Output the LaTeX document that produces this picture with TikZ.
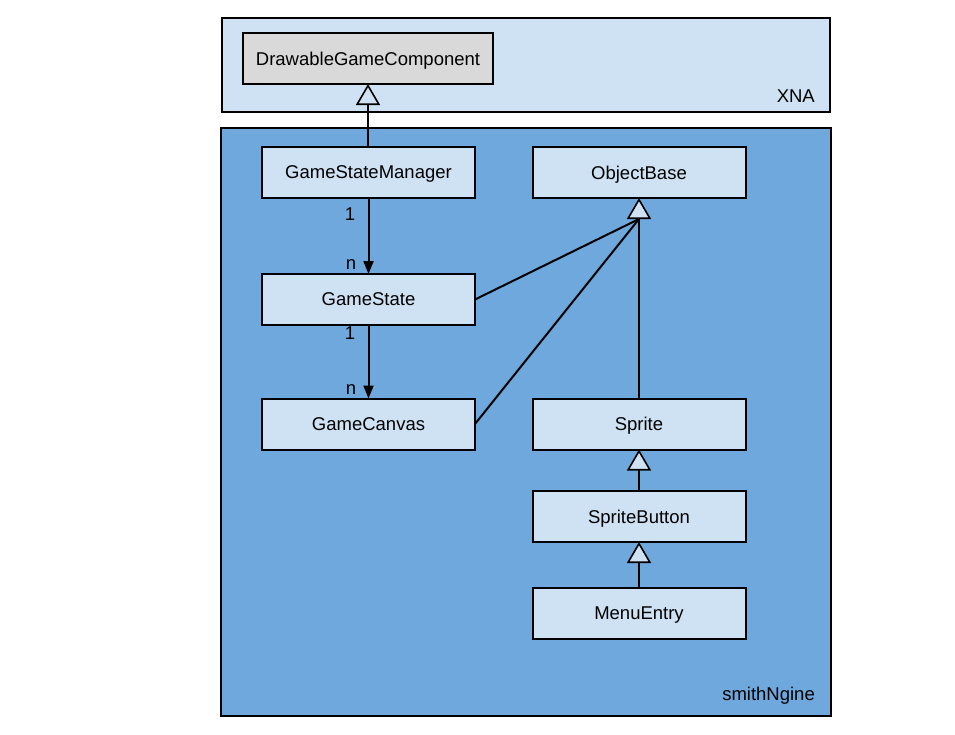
\documentclass[tikz,border=0pt]{standalone}
\usepackage{fontspec}
\setmainfont{Liberation Sans}
\usetikzlibrary{arrows.meta}
\definecolor{lightbl}{HTML}{CFE2F3}
\definecolor{darkbl}{HTML}{6FA8DC}
\definecolor{greybox}{HTML}{D9D9D9}
\tikzset{
  pkg/.style={draw=black, line width=2pt},
  cls/.style={draw=black, line width=2pt, fill=lightbl, minimum width=213pt, minimum height=51pt, inner sep=0pt, outer sep=0pt, text depth=-2pt, font=\fontsize{18.5}{22}\selectfont},
  lbl/.style={font=\fontsize{18.5}{22}\selectfont, inner sep=0pt},
  inherit/.style={line width=2pt, -{Triangle[width=24pt,length=21pt,fill=lightbl,line width=1.6pt]}},
  assoc/.style={line width=2pt, -{Triangle[width=10pt,length=13pt]}},
  plain/.style={line width=2pt},
}
\begin{document}
\begin{tikzpicture}[x=1pt,y=-1pt]
\useasboundingbox (0,0) rectangle (955,734);
% packages
\draw[pkg, fill=lightbl] (222,18) rectangle (830,112);
\node[lbl, anchor=base east] (xnalbl) at (815,102) {XNA};
\draw[pkg, fill=darkbl] (221,128) rectangle (831,716);
\node[lbl, anchor=base east] (smlbl) at (815,700) {smithNgine};
% classes
\node[cls, fill=greybox, minimum width=250pt] (dgc) at (368,58.5) {DrawableGameComponent};
\node[cls] (gsm) at (368.5,172.5) {GameStateManager};
\node[cls] (ob) at (639,172.5) {ObjectBase};
\node[cls] (gs) at (368.5,299.5) {GameState};
\node[cls] (gc) at (368.5,424) {GameCanvas};
\node[cls] (sp) at (639,424) {Sprite};
\node[cls] (sb) at (639,516.5) {SpriteButton};
\node[cls] (me) at (639,613) {MenuEntry};
\coordinate (obb) at (639,219);
% connectors
\draw[inherit] (gsm.north -| dgc.south) -- (dgc.south);
\draw[assoc] (gsm.south) -- (gs.north);
\draw[assoc] (gs.south) -- (gc.north);
\draw[inherit] (sp.north) -- (ob.south);
\draw[plain] (gs.east) -- (obb);
\draw[plain] (gc.east) -- (obb);
\draw[inherit] (sb.north) -- (sp.south);
\draw[inherit] (me.north) -- (sb.south);
% multiplicities
\node[lbl] (m1) at (350,214) {1};
\node[lbl] (m2) at (351,265) {n};
\node[lbl] (m3) at (350,333) {1};
\node[lbl] (m4) at (351,390) {n};
\end{tikzpicture}
\end{document}
